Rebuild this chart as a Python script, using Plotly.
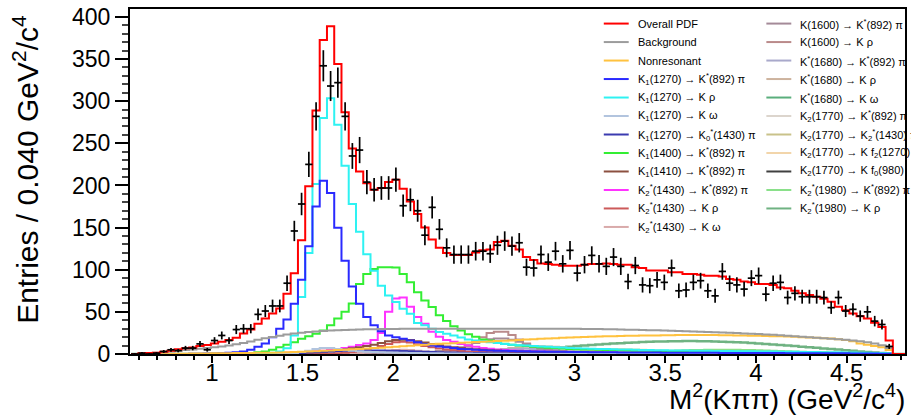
import numpy as np
import plotly.graph_objects as go

# ---------------- binning ----------------
BIN_LO = 0.555
BIN_W = 0.04
N_BINS = 107

# ---------------- data (events per bin) ----------------
data_counts = [
    0, 1, 0, 1, 3, 5, 4, 7, 7, 12,
    5, 16, 22, 16, 29, 30, 30, 47, 51, 57,
    57, 84, 146, 178, 225, 282, 342, 318, 322, 282,
    235, 242, 204, 195, 197, 197, 207, 176, 183, 170,
    141, 174, 148, 126, 118, 118, 118, 122, 122, 119,
    129, 134, 128, 132, 103, 102, 118, 109, 122, 107,
    123, 96, 106, 117, 107, 104, 115, 104, 86, 105,
    82, 81, 88, 85, 102, 75, 76, 85, 87, 75,
    69, 98, 84, 82, 77, 90, 93, 71, 84, 85,
    67, 72, 68, 68, 68, 67, 55, 67, 51, 53,
    45, 50, 39, 35, 9]

# ---------------- fit components ----------------
total_pdf = [
    0, 0.8, 1.2, 1.6, 2.7, 3.9, 5.5, 6.7, 7.8, 9.4,
    10.6, 12.5, 14.5, 16.5, 19.2, 24.3, 29, 36, 42, 48,
    54, 71.5, 95.7, 135, 199, 289, 372.6, 389, 344, 287,
    244, 216.5, 202.7, 195, 197, 204, 206.7, 196, 181, 166,
    150, 136, 126, 120, 117.6, 117.6, 117.6, 120.4, 123, 124,
    133, 134.5, 128.6, 124, 115, 111.4, 107.5, 106.7, 106, 104.7,
    104.7, 104.7, 106, 106.7, 106.7, 107.5, 106.7, 106, 106, 103,
    102, 99, 99, 99, 97, 97, 95, 95, 94, 93,
    93, 92, 89, 88, 86, 85, 83, 83, 82, 79,
    78, 75, 72, 70, 68, 65.5, 62, 56, 52, 48,
    44.7, 42, 37, 32, 16, 0, 0]

background = [
    0, 0.3, 0.8, 1.5, 2.2, 3, 3.8, 4.6, 5.4, 6.2,
    7, 8, 9, 10.2, 11.5, 13, 14.8, 16.8, 18.6, 20.3,
    21.8, 23, 24.2, 25.2, 26, 26.8, 27.4, 27.9, 28.3, 28.6,
    28.9, 29.1, 29.3, 29.5, 29.6, 29.7, 29.8, 29.9, 30, 30,
    30, 30, 30, 30, 30, 30, 30, 30, 30, 30,
    30, 30, 30, 30, 30, 30, 30, 30, 30, 30,
    30, 29.9, 29.8, 29.7, 29.6, 29.5, 29.3, 29.1, 28.9, 28.7,
    28.5, 28.3, 28.1, 27.9, 27.6, 27.3, 27, 26.7, 26.4, 26.1,
    25.8, 25.5, 25.2, 24.8, 24.4, 24, 23.6, 23.2, 22.7, 22.2,
    21.7, 21.2, 20.6, 20, 19.4, 18.8, 18.2, 17.5, 16.8, 16,
    15, 14, 12.5, 10.5, 7, 0, 0]

nonresonant = [
    0, 0, 0, 0, 0.1, 0.2, 0.3, 0.4, 0.5, 0.6,
    0.7, 0.8, 0.9, 1.0, 1.1, 1.2, 1.3, 1.4, 1.5, 1.6,
    1.8, 2.0, 2.3, 2.6, 3.0, 3.4, 3.8, 4.2, 4.6, 5.0,
    5.5, 6.0, 6.5, 7.0, 7.5, 8.0, 8.6, 9.2, 9.8, 10.4,
    11.0, 11.6, 12.1, 12.5, 12.9, 13.3, 13.7, 14.1, 14.5, 14.9,
    15.3, 15.7, 16.1, 16.6, 17.1, 17.6, 18.0, 18.4, 18.8, 19.2,
    19.5, 19.8, 20.1, 20.4, 20.7, 21.0, 21.2, 21.4, 21.6, 21.8,
    21.9, 22.0, 22.1, 22.2, 22.3, 22.4, 22.4, 22.4, 22.4, 22.4,
    22.4, 22.3, 22.2, 22.1, 22.0, 21.8, 21.6, 21.4, 21.2, 21.0,
    20.7, 20.4, 20.0, 19.6, 19.2, 18.7, 18.4, 17.5, 16.5, 15.0,
    12.5, 11.0, 9.5, 8.0, 4.7, 0, 0]

k1270_kstpi = [
    0, 0, 0, 0, 0, 0, 0, 0, 0.2, 0.3,
    0.5, 0.7, 1.0, 1.5, 2.0, 3.0, 5.0, 8.6, 12.5, 20,
    30, 40.8, 59.6, 88, 128, 175, 205.5, 191, 149.8, 110.6,
    80, 59.6, 44, 34, 27, 22, 20, 18, 16, 14,
    12, 10, 9, 8, 7, 6, 5.5, 5, 4.5, 4.2,
    4.0, 3.8, 3.6, 3.4, 3.2, 3.0, 2.9, 2.8, 2.7, 2.6,
    2.5, 2.4, 2.3, 2.2, 2.1, 2.0, 2.0, 1.9, 1.9, 1.8,
    1.8, 1.7, 1.7, 1.6, 1.6, 1.5, 1.5, 1.5, 1.4, 1.4,
    1.4, 1.3, 1.3, 1.3, 1.2, 1.2, 1.2, 1.1, 1.1, 1.1,
    1.0, 1.0, 1.0, 0.9, 0.9, 0.9, 0.8, 0.8, 0.8, 0.7,
    0.7, 0.6, 0.5, 0.4, 0.3, 0, 0]

k1270_krho = [
    0, 0, 0, 0, 0, 0, 0, 0, 0, 0,
    0, 0, 0, 0.1, 0.1, 0.2, 0.3, 0.5, 0.8, 1.5,
    3, 6.7, 22, 67.5, 120, 201.6, 280, 303.5, 272, 223.5,
    178, 145, 118.4, 98.8, 81, 69.4, 61.6, 53.7, 47.8, 36.9,
    34, 30, 26, 24, 22, 19.6, 17.3, 16, 15, 14,
    13, 12, 11, 10.5, 10, 9.5, 9, 8.5, 8, 7.6,
    7.2, 6.9, 6.6, 6.3, 6.0, 5.8, 5.6, 5.4, 5.2, 5.0,
    4.8, 4.6, 4.5, 4.4, 4.3, 4.2, 4.1, 4.0, 3.9, 3.8,
    3.7, 3.6, 3.5, 3.4, 3.3, 3.2, 3.1, 3.0, 2.9, 2.8,
    2.7, 2.6, 2.5, 2.4, 2.3, 2.2, 2.1, 2.0, 1.9, 1.8,
    1.6, 1.5, 1.3, 1.1, 0.8, 0, 0]

k1400_kstpi = [
    0, 0, 0, 0, 0, 0, 0, 0, 0, 0,
    0.1, 0.2, 0.3, 0.4, 0.6, 0.8, 1.2, 2, 3, 5,
    8, 11, 14, 18, 21, 24, 28, 34, 42, 50,
    60, 83, 95, 101, 103, 103, 102.7, 95, 85, 73.3,
    63.5, 55.7, 45.9, 39.2, 33, 28, 23.5, 20.4, 17.3, 16,
    13.7, 12.2, 11, 10, 9.4, 8.6, 8, 7.5, 7, 6.5,
    6, 5.7, 5.4, 5.2, 5.0, 4.8, 4.6, 4.4, 4.2, 4.0,
    3.9, 3.8, 3.7, 3.6, 3.5, 3.4, 3.3, 3.2, 3.1, 3.0,
    2.9, 2.8, 2.7, 2.6, 2.5, 2.4, 2.3, 2.2, 2.1, 2.0,
    1.9, 1.8, 1.7, 1.6, 1.5, 1.4, 1.3, 1.2, 1.1, 1.0,
    0.9, 0.8, 0.7, 0.6, 0.4, 0, 0]

k1430_kstpi = [
    0, 0, 0, 0, 0, 0, 0, 0, 0, 0,
    0, 0, 0.1, 0.1, 0.2, 0.3, 0.4, 0.5, 0.7, 0.9,
    1.1, 1.4, 1.8, 2.2, 2.7, 3.3, 4, 5, 6, 7,
    8.5, 10.6, 12.5, 16.5, 25, 50, 66, 67, 56, 44,
    36, 26.3, 20.4, 16.5, 14.5, 12, 10, 8.6, 7.2, 6.2,
    5.4, 4.8, 4.3, 3.9, 3.5, 3.2, 2.9, 2.7, 2.5, 2.3,
    2.1, 2.0, 1.9, 1.8, 1.7, 1.6, 1.5, 1.4, 1.3, 1.2,
    1.2, 1.1, 1.1, 1.0, 1.0, 1.0, 0.9, 0.9, 0.9, 0.8,
    0.8, 0.8, 0.7, 0.7, 0.7, 0.6, 0.6, 0.6, 0.5, 0.5,
    0.5, 0.5, 0.4, 0.4, 0.4, 0.4, 0.3, 0.3, 0.3, 0.3,
    0.2, 0.2, 0.2, 0.1, 0.1, 0, 0]

# smaller components: (first bin, values from that bin on)
k1270_komega = (20, [0.5, 0.8, 1.2, 2.5, 4, 6, 7, 7, 6, 5, 4, 3.3, 2.8, 2.4, 2.0, 1.8,
                     1.6, 1.4, 1.2, 1.1, 1.0, 0.9, 0.8, 0.7, 0.6, 0.5, 0.5, 0.4, 0.4,
                     0.3, 0.3, 0.2])
k1270_k0stpi = (18, [0.1, 0.2, 0.3, 0.5, 0.8, 1.2, 1.7, 2.2, 2.7, 3.1, 3.5, 3.8, 4.0, 4.1,
                     4.2, 4.2, 4.1, 4.0, 3.8, 3.6, 3.3, 3.0, 2.7, 2.4, 2.1, 1.9, 1.7, 1.5,
                     1.3, 1.2, 1.1, 1.0, 0.9, 0.8, 0.7, 0.6, 0.6, 0.5, 0.5, 0.4, 0.4, 0.3,
                     0.3, 0.3, 0.2, 0.2, 0.2, 0.1])
k1410_kstpi = (18, [0.3, 0.4, 0.5, 0.8, 1.1, 1.5, 2, 2.5, 3, 3.7, 4.5, 5.5, 6.7, 8, 9.5,
                    11, 13, 15, 16.5, 17, 16.5, 15, 13.5, 12, 10.5, 9, 8, 7, 6.2, 5.5,
                    5, 4.5, 4.1, 3.7, 3.4, 3.1, 2.8, 2.6, 2.4, 2.2, 2.0, 1.9, 1.8, 1.7,
                    1.6, 1.5, 1.4, 1.3, 1.2, 1.1, 1.0, 0.9, 0.9, 0.8, 0.8, 0.7, 0.7,
                    0.6, 0.6, 0.5, 0.5, 0.4, 0.4, 0.3, 0.3, 0.2, 0.2])
k1430_krho = (26, [0.5, 0.7, 1, 1.5, 2.5, 3.5, 5, 7, 9.5, 12, 14, 14.5, 13.5, 11.5, 9.5,
                   8, 6.5, 5.3, 4.4, 3.7, 3.1, 2.7, 2.3, 2.0, 1.8, 1.6, 1.4, 1.2, 1.1,
                   1.0, 0.9, 0.8, 0.7, 0.6, 0.5, 0.5, 0.4, 0.4, 0.3, 0.3, 0.2])
k1430_komega = (28, [0.3, 0.5, 0.8, 1.2, 1.8, 2.5, 3.3, 4.2, 4.8, 5, 4.6, 3.8, 3.0, 2.4,
                     1.9, 1.5, 1.2, 1.0, 0.8, 0.7, 0.6, 0.5, 0.4, 0.3, 0.3, 0.2])
k1600_kstpi = (34, [0.5, 0.6, 0.7, 0.8, 1, 1.5, 2, 2.7, 3.5, 4.5, 6, 8, 10.5, 13, 15.5,
                    17.5, 18.5, 18.5, 17, 14.5, 11.5, 8.5, 6.2, 4.5, 3.4, 2.6, 2.0, 1.6,
                    1.3, 1.0, 0.9, 0.8, 0.7, 0.6, 0.5, 0.5, 0.4, 0.4, 0.3, 0.3, 0.2])
k1600_krho = (36, [0.5, 0.6, 0.7, 0.8, 1, 1.5, 2.2, 3, 4.2, 6, 9, 14.5, 20, 25, 26.3,
                   26.3, 22.4, 17.3, 12.5, 9.5, 7.2, 5.5, 4.3, 3.5, 2.8, 2.3, 1.9, 1.6,
                   1.3, 1.1, 1.0, 0.9, 0.8, 0.7, 0.6, 0.5, 0.5, 0.4, 0.4, 0.3, 0.3, 0.2])
k1680_kstpi = (40, [0.5, 0.7, 0.9, 1.2, 1.6, 2.0, 2.5, 3.0, 3.6, 4.2, 4.8, 5.3, 5.7, 6.0,
                    6.1, 6.0, 5.7, 5.2, 4.6, 4.0, 3.4, 2.9, 2.4, 2.0, 1.7, 1.4, 1.2, 1.0,
                    0.8, 0.7, 0.6, 0.5, 0.4, 0.3, 0.3, 0.2])
k1680_krho = (42, [0.5, 0.7, 1, 1.3, 1.8, 2.4, 3.1, 4, 5, 6, 7, 7.8, 8.5, 9, 9.2, 9, 8.5,
                   7.7, 6.8, 5.8, 4.9, 4.1, 3.4, 2.8, 2.3, 1.9, 1.6, 1.3, 1.1, 0.9, 0.8,
                   0.7, 0.6, 0.5, 0.4, 0.3, 0.3, 0.2])
k1680_komega = (44, [0.3, 0.5, 0.7, 1, 1.3, 1.6, 1.9, 2.2, 2.4, 2.5, 2.5, 2.4, 2.2, 2.0,
                     1.8, 1.5, 1.3, 1.1, 0.9, 0.8, 0.6, 0.5, 0.4, 0.3, 0.3, 0.2])
k1770_kstpi = (48, [0.5, 0.7, 1, 1.3, 1.7, 2.1, 2.5, 3, 3.4, 3.8, 4.2, 4.5, 4.8, 5, 5.1,
                    5.1, 5, 4.8, 4.5, 4.1, 3.7, 3.3, 2.9, 2.5, 2.1, 1.8, 1.5, 1.3, 1.1,
                    0.9, 0.8, 0.7, 0.6, 0.5, 0.4, 0.3, 0.3, 0.2])
k1770_k2stpi = (52, [0.3, 0.5, 0.7, 0.9, 1.2, 1.5, 1.8, 2.1, 2.5, 2.8, 3.1, 3.4, 3.7, 3.9,
                     4.0, 4.1, 4.1, 4.0, 3.8, 3.6, 3.3, 3.0, 2.7, 2.4, 2.1, 1.8, 1.6, 1.4,
                     1.2, 1.0, 0.9, 0.8, 0.7, 0.6, 0.5, 0.4, 0.3, 0.3, 0.2])
k1770_kf2 = (50, [0.5, 0.7, 1, 1.3, 1.7, 2.1, 2.6, 3.1, 3.6, 4.1, 4.6, 5.0, 5.4, 5.7, 5.9,
                  6.0, 6.0, 5.9, 5.7, 5.4, 5.0, 4.6, 4.1, 3.6, 3.1, 2.7, 2.3, 1.9, 1.6,
                  1.3, 1.1, 0.9, 0.7, 0.6, 0.5, 0.4, 0.3, 0.2])
k1770_kf0 = (52, [0.2, 0.3, 0.4, 0.5, 0.6, 0.8, 0.9, 1.0, 1.1, 1.2, 1.3, 1.4, 1.5, 1.5,
                  1.5, 1.4, 1.3, 1.2, 1.1, 1.0, 0.9, 0.8, 0.7, 0.6, 0.5, 0.4, 0.3, 0.3,
                  0.2, 0.2])
k1980_kstpi = (60, [0.3, 0.5, 0.7, 0.9, 1.1, 1.4, 1.7, 2.0, 2.3, 2.6, 2.9, 3.2, 3.5, 3.8,
                    4.0, 4.2, 4.4, 4.6, 4.8, 4.9, 5.0, 5.0, 5.0, 4.9, 4.8, 4.6, 4.4, 4.2,
                    3.9, 3.6, 3.3, 3.0, 2.7, 2.4, 2.1, 1.8, 1.5, 1.2, 1.0, 0.8, 0.6, 0.4,
                    0.3, 0.2, 0.1])
k1980_krho = (50, [1, 1.5, 2, 2.7, 3.4, 4.2, 5, 6, 7, 7.8, 8.6, 9.4, 10.1, 10.8, 11.4,
                   11.9, 12.4, 12.9, 13.3, 13.7, 14.1, 14.4, 14.7, 14.9, 15.1, 15.2,
                   15.3, 15.3, 15.2, 15.1, 14.9, 14.6, 14.3, 13.9, 13.5, 13.0, 12.5,
                   12.0, 11.4, 10.8, 10.1, 9.4, 8.7, 8.0, 7.3, 6.6, 5.9, 5.2, 4.5, 3.8,
                   3.1, 2.5, 1.9, 1.3, 0.7])


def full(series):
    if isinstance(series, tuple):
        start, vals = series
        out = [0.0] * N_BINS
        for i, v in enumerate(vals):
            if start + i < N_BINS:
                out[start + i] = v
        return out
    return list(series)


# (legend label, series, colour, line width)
left_entries = [
    ("Overall PDF", total_pdf, "#ff0000", 2),
    ("Background", background, "#9c9c9c", 2),
    ("Nonresonant", nonresonant, "#ffc23f", 2),
    ("K<sub>1</sub>(1270) → K<sup>*</sup>(892) π", k1270_kstpi, "#2a2aff", 2),
    ("K<sub>1</sub>(1270) → K ρ", k1270_krho, "#2ef2f2", 2),
    ("K<sub>1</sub>(1270) → K ω", k1270_komega, "#b2c4de", 2),
    ("K<sub>1</sub>(1270) → K<sub>0</sub><sup>*</sup>(1430) π", k1270_k0stpi, "#3b3bb0", 2),
    ("K<sub>1</sub>(1400) → K<sup>*</sup>(892) π", k1400_kstpi, "#33ee33", 2),
    ("K<sub>1</sub>(1410) → K<sup>*</sup>(892) π", k1410_kstpi, "#8c5040", 2),
    ("K<sub>2</sub><sup>*</sup>(1430) → K<sup>*</sup>(892) π", k1430_kstpi, "#ff33ff", 2),
    ("K<sub>2</sub><sup>*</sup>(1430) → K ρ", k1430_krho, "#cc5a5a", 2),
    ("K<sub>2</sub><sup>*</sup>(1430) → K ω", k1430_komega, "#d9aaaa", 2),
]
right_entries = [
    ("K(1600) → K<sup>*</sup>(892) π", k1600_kstpi, "#a48a98", 2),
    ("K(1600) → K ρ", k1600_krho, "#ba8a8a", 2),
    ("K<sup>*</sup>(1680) → K<sup>*</sup>(892) π", k1680_kstpi, "#a9a9cb", 2),
    ("K<sup>*</sup>(1680) → K ρ", k1680_krho, "#cdb39e", 2),
    ("K<sup>*</sup>(1680) → K ω", k1680_komega, "#5aae7c", 2),
    ("K<sub>2</sub>(1770) → K<sup>*</sup>(892) π", k1770_kstpi, "#dcd5cd", 2),
    ("K<sub>2</sub>(1770) → K<sub>2</sub><sup>*</sup>(1430) π", k1770_k2stpi, "#c9c28a", 2),
    ("K<sub>2</sub>(1770) → K f<sub>2</sub>(1270)", k1770_kf2, "#f2d5aa", 2),
    ("K<sub>2</sub>(1770) → K f<sub>0</sub>(980)", k1770_kf0, "#404040", 2),
    ("K<sub>2</sub><sup>*</sup>(1980) → K<sup>*</sup>(892) π", k1980_kstpi, "#8ae08a", 2),
    ("K<sub>2</sub><sup>*</sup>(1980) → K ρ", k1980_krho, "#6fb282", 2.5),
]

edges = BIN_LO + BIN_W * np.arange(N_BINS + 1)

fig = go.Figure()


def add_step(vals, color, width):
    v = full(vals)
    fig.add_trace(go.Scatter(
        x=edges, y=v + [v[-1]], mode="lines",
        line=dict(color=color, width=width, shape="hv"),
        hoverinfo="skip", showlegend=False))


# components below, total on top
for name, vals, color, w in reversed(right_entries):
    add_step(vals, color, w)
for name, vals, color, w in reversed(left_entries[1:]):
    add_step(vals, color, w)
add_step(total_pdf, "#ff0000", 2)

# data points with Poisson errors
counts = np.array(data_counts, dtype=float)
centers = BIN_LO + BIN_W * (np.arange(len(counts)) + 0.5)
fig.add_trace(go.Scatter(
    x=centers, y=counts, mode="markers",
    marker=dict(size=2, color="black"),
    error_y=dict(type="data", array=np.sqrt(counts), width=0, thickness=1.7, color="black"),
    error_x=dict(type="constant", value=BIN_W / 2, width=0, thickness=1.7, color="black"),
    hoverinfo="skip", showlegend=False))

# ---------------- layout ----------------
W, H = 911, 417
ML, MR, MT, MB = 130, 4, 6, 63
PW, PH = W - ML - MR, H - MT - MB


def px(xp):
    return (xp - ML) / PW


def py(yp):
    return (H - MB - yp) / PH


FONT = "Liberation Sans, Arial, Helvetica, sans-serif"
shapes = []
annotations = []

ROW0, ROWH = 20.7, 18.65
for col, entries, lx0, lx1, tx in ((0, left_entries, 605, 630, 637),
                                   (1, right_entries, 768, 793, 800)):
    for i, (name, vals, color, w) in enumerate(entries):
        yy = py(ROW0 + i * ROWH)
        shapes.append(dict(type="line", xref="paper", yref="paper",
                           x0=px(lx0), x1=px(lx1), y0=yy, y1=yy,
                           line=dict(color=color, width=2)))
        annotations.append(dict(xref="paper", yref="paper", x=px(tx), y=yy,
                                xanchor="left", yanchor="middle", showarrow=False,
                                text=name, font=dict(family=FONT, size=11, color="black")))

annotations.append(dict(xref="paper", yref="paper", x=px(25), y=py(168),
                        xanchor="center", yanchor="middle", showarrow=False, textangle=-90,
                        text="Entries / 0.040 GeV<sup>2</sup>/c<sup>4</sup>",
                        font=dict(family=FONT, size=30, color="black")))
annotations.append(dict(xref="paper", yref="paper", x=px(909), y=py(418),
                        xanchor="right", yanchor="bottom", showarrow=False,
                        text="M<sup>2</sup>(Kππ) (GeV<sup>2</sup>/c<sup>4</sup>)",
                        font=dict(family=FONT, size=28, color="black")))

fig.update_layout(
    width=W, height=H,
    margin=dict(l=ML, r=MR, t=MT, b=MB, pad=0),
    paper_bgcolor="white", plot_bgcolor="white",
    font=dict(family=FONT, color="black"),
    showlegend=False,
    shapes=shapes, annotations=annotations,
    xaxis=dict(range=[0.549, 4.822], tick0=0, dtick=0.5, ticks="outside",
               ticklen=7, tickwidth=2, tickcolor="black", ticklabelstandoff=-11,
               minor=dict(dtick=0.1, tick0=0, ticks="outside", ticklen=4,
                          tickwidth=1.5, tickcolor="black", showgrid=False),
               showline=True, linewidth=2, linecolor="black", mirror=True,
               showgrid=False, zeroline=False,
               tickfont=dict(family=FONT, size=24, color="black")),
    yaxis=dict(range=[0, 409.4], tick0=0, dtick=50, ticks="outside",
               ticklen=13, tickwidth=2, tickcolor="black",
               minor=dict(dtick=10, tick0=0, ticks="outside", ticklen=6,
                          tickwidth=1.5, tickcolor="#444444", showgrid=False),
               showline=True, linewidth=2, linecolor="black", mirror=True,
               showgrid=False, zeroline=False,
               tickfont=dict(family=FONT, size=23, color="black")),
)

fig.write_html("out.html")
